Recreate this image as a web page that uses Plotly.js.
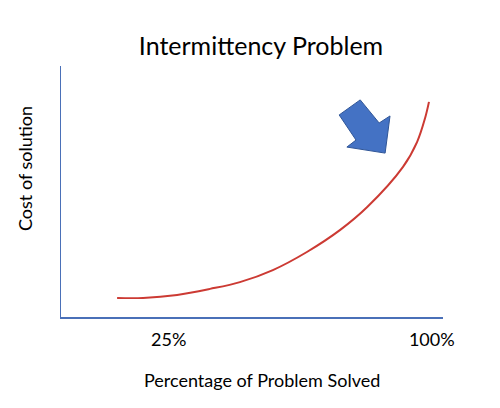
<!DOCTYPE html>
<html>
<head>
<meta charset="utf-8">
<script src="https://cdn.plot.ly/plotly-3.0.1.min.js"></script>
<style>html,body{margin:0;padding:0;background:#fff;}#chart{width:500px;height:408px;}</style>
</head>
<body>
<div id="chart"></div>
<script>
// Curve: percentage of problem solved vs relative cost
const pctSolved = [10.3, 17.7, 27.4, 36.8, 45.3, 54.7, 64.4, 73.9, 81.6, 91.8, 95.8, 98.1, 99.2];
const cost      = [7.6, 7.6, 8.8, 11.2, 13.9, 18.7, 25.9, 34.7, 43.8, 59.8, 69.7, 79.3, 85.7];
const tickVals  = [25, 100];
const tickText  = ['25%', '100%'];
const titleText = 'Intermittency Problem';
const xTitle    = 'Percentage of Problem Solved';
const yTitle    = 'Cost of solution';
// Block arrow decoration (data coordinates)
const arrowX = [73.6, 79.6, 85.0, 88.1, 86.7, 75.8, 78.4];
const arrowY = [80.5, 86.5, 77.3, 80.1, 65.3, 67.7, 70.5];

const arrowPath = arrowX.map((x, i) => (i === 0 ? 'M' : 'L') + x + ',' + arrowY[i]).join(' ') + ' Z';

const font = 'Lato, "Open Sans", sans-serif';
const axisBlue = '#4A70B8';

Plotly.newPlot('chart', [{
  x: pctSolved, y: cost, type: 'scatter', mode: 'lines',
  line: {color: '#CC3A33', width: 2, shape: 'spline', smoothing: 1},
  hoverinfo: 'skip', showlegend: false
}], {
  width: 500, height: 408,
  margin: {l: 61, r: 57, t: 66, b: 91},
  paper_bgcolor: '#fff', plot_bgcolor: '#fff',
  font: {family: font, color: '#000'},
  title: {text: titleText, font: {size: 25, family: font, color: '#000'}, x: 0.522, xanchor: 'center', y: 0.887, yanchor: 'middle'},
  xaxis: {
    range: [-5.7, 103.2], showgrid: false, zeroline: false,
    showline: true, linecolor: axisBlue, linewidth: 1.5,
    tickvals: tickVals, ticktext: tickText, ticks: '',
    tickfont: {size: 18, family: font, color: '#000'}, ticklabelstandoff: 6
  },
  yaxis: {
    range: [0, 100], showgrid: false, zeroline: false,
    showline: true, linecolor: axisBlue, linewidth: 1.5,
    showticklabels: false, ticks: ''
  },
  annotations: [
    {text: xTitle, xref: 'paper', yref: 'paper', x: 0.526, y: -0.251, xanchor: 'center', yanchor: 'middle',
     showarrow: false, font: {size: 18, family: font, color: '#000'}},
    {text: yTitle, xref: 'paper', yref: 'paper', x: -0.094, y: 0.59, xanchor: 'center', yanchor: 'middle',
     textangle: -90, showarrow: false, font: {size: 18, family: font, color: '#000'}}
  ],
  shapes: [{
    type: 'path', xref: 'x', yref: 'y', path: arrowPath,
    fillcolor: '#4472C4', line: {color: '#2F5597', width: 1}
  }]
}, {staticPlot: true});
</script>
</body>
</html>
